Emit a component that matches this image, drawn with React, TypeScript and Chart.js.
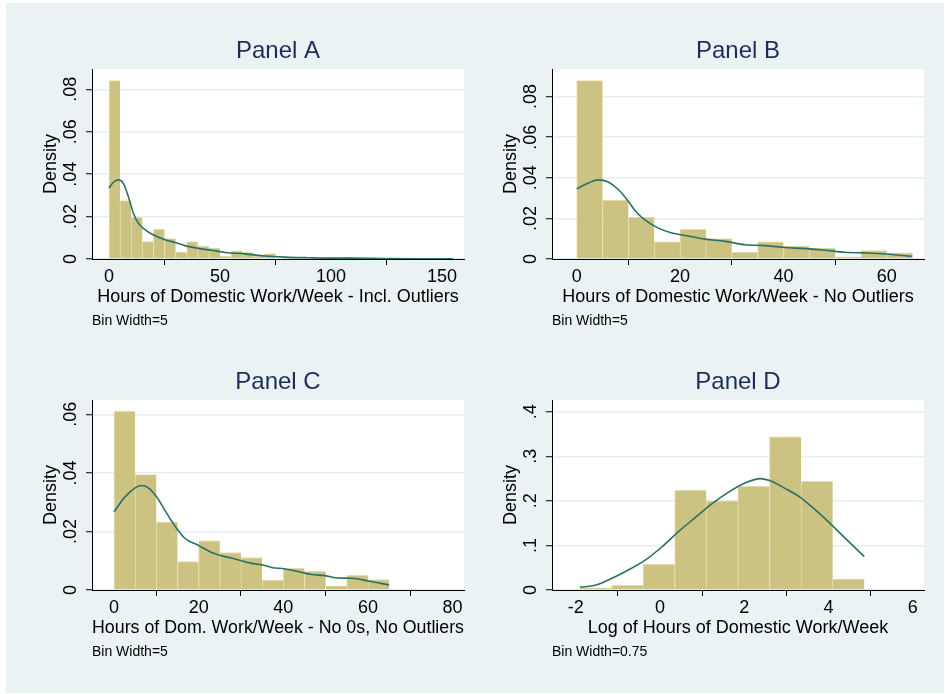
import React, { useEffect, useRef } from "react";
import { Chart, registerables } from "chart.js";

Chart.register(...registerables);

const FONT = "'Liberation Sans', Arial, Helvetica, sans-serif";

// ---------------- Panel A: incl. outliers (bin width 5) ----------------
const binCentersA = [
  2.5, 7.5, 12.5, 17.5, 22.5, 27.5, 32.5, 37.5, 42.5, 47.5, 52.5, 57.5, 62.5, 67.5, 72.5, 77.5,
  82.5, 87.5, 92.5, 97.5, 102.5, 107.5, 112.5, 117.5, 122.5, 127.5, 132.5, 137.5, 142.5, 147.5, 152.5,
];
const densityA = [
  0.0841, 0.0276, 0.0196, 0.0082, 0.014, 0.0096, 0.0033, 0.0082, 0.0061, 0.0052, 0.0013, 0.0039, 0.0031,
  0.0013, 0.0025, 0.0006, 0.0008, 0.0005, 0.0004, 0.0003, 0.0004, 0.0009, 0.0002, 0.0002, 0.0003, 0.0002,
  0.0001, 0.0001, 0.0001, 0.0001, 0.0002,
];
const kernelXA = [0, 2, 4.2, 6.4, 8.7, 11, 13.2, 16.2, 19.2, 25.2, 29.7, 34.2, 40.2, 46.2, 52.3, 61.3, 70.3, 79.3, 90, 100, 110, 125, 140, 155];
const kernelYA = [
  0.0334, 0.0362, 0.0373, 0.0358, 0.0295, 0.0216, 0.0169, 0.0138, 0.0118, 0.0091, 0.0078, 0.0063, 0.005,
  0.0041, 0.0031, 0.0024, 0.0014, 0.0009, 0.0006, 0.0004, 0.0004, 0.0002, 0.0001, 0.0001,
];

// ---------------- Panel B: no outliers ----------------
const binCentersB = [2.5, 7.5, 12.5, 17.5, 22.5, 27.5, 32.5, 37.5, 42.5, 47.5, 52.5, 57.5, 62.5];
const densityB = [0.0879, 0.0289, 0.0205, 0.0085, 0.0146, 0.01, 0.0034, 0.0085, 0.0064, 0.0054, 0.0011, 0.0041, 0.0031];
const kernelXB = [0, 2.26, 4.2, 6.1, 8.1, 10, 11.3, 13.2, 15.8, 18.4, 21, 24.8, 28.7, 32.6, 36.5, 40.3, 44.2, 48.1, 51.9, 55.8, 59.7, 64.8];
const kernelYB = [
  0.0346, 0.0374, 0.039, 0.0379, 0.0341, 0.0284, 0.0238, 0.0193, 0.0152, 0.0128, 0.0116, 0.0098, 0.0087,
  0.007, 0.0066, 0.0057, 0.0051, 0.0043, 0.0033, 0.003, 0.0025, 0.0013,
];

// ---------------- Panel C: no 0s, no outliers ----------------
const binCentersC = [2.5, 7.5, 12.5, 17.5, 22.5, 27.5, 32.5, 37.5, 42.5, 47.5, 52.5, 57.5, 62.5];
const densityC = [0.061, 0.0394, 0.0232, 0.0097, 0.0168, 0.0128, 0.0111, 0.0034, 0.0074, 0.0064, 0.0014, 0.005, 0.0036];
const kernelXC = [0, 2.6, 5, 6.5, 8.1, 10.1, 12, 14, 16.8, 19.9, 23.1, 25.4, 27.8, 32.5, 34.9, 37.2, 40.4, 43.5, 46.7, 49.8, 53, 56.1, 60.1, 65];
const kernelYC = [
  0.0267, 0.0318, 0.0349, 0.0357, 0.0349, 0.0318, 0.0273, 0.0227, 0.0176, 0.0153, 0.0128, 0.0117, 0.0109,
  0.0091, 0.0086, 0.0077, 0.0072, 0.0063, 0.0053, 0.0049, 0.0041, 0.004, 0.0031, 0.0017,
];

// ---------------- Panel D: log hours (bin width 0.75) ----------------
const binCentersD = [-1.525, -0.775, -0.025, 0.725, 1.475, 2.225, 2.975, 3.725, 4.475];
const densityD = [0.0045, 0.0105, 0.0575, 0.2235, 0.2003, 0.2324, 0.3438, 0.2436, 0.0247];
const kernelXD = [-1.9, -1.54, -1.15, -0.75, -0.35, 0.05, 0.44, 0.83, 1.23, 1.62, 2.02, 2.38, 2.65, 2.97, 3.28, 3.6, 4.0, 4.39, 4.85];
const kernelYD = [0.006, 0.0105, 0.026, 0.045, 0.067, 0.097, 0.131, 0.162, 0.193, 0.219, 0.24, 0.25, 0.244, 0.228, 0.211, 0.187, 0.153, 0.117, 0.075];

const BAR_FILL = "#CCC383";
const BAR_EDGE = "#E4DDA8";
const KERNEL = "#2B7066";
const TITLE_COLOR = "#1C2D5C";
const GRID = "#E6EEF1";

type PanelCfg = {
  key: string;
  title: string;
  xTitle: string;
  note: string;
  centers: number[];
  density: number[];
  kx: number[];
  ky: number[];
  xMin: number;
  xMax: number;
  xStep: number;
  yMax: number;
  yStep: number;
  yTickPad: number;
  pos: { left: number; top: number; w: number; h: number };
  area: { L: number; R: number; T: number; B: number };
};

const panels: PanelCfg[] = [
  {
    key: "A", title: "Panel A", xTitle: "Hours of Domestic Work/Week - Incl. Outliers", note: "Bin Width=5",
    centers: binCentersA, density: densityA, kx: kernelXA, ky: kernelYA,
    xMin: -7.66, xMax: 159.9, xStep: 50, yMax: 0.0896, yStep: 0.02, yTickPad: 2.3,
    pos: { left: 0, top: 0, w: 472, h: 347 }, area: { L: 92, R: 464, T: 69, B: 259 },
  },
  {
    key: "B", title: "Panel B", xTitle: "Hours of Domestic Work/Week - No Outliers", note: "Bin Width=5",
    centers: binCentersB, density: densityB, kx: kernelXB, ky: kernelYB,
    xMin: -4.78, xMax: 67.2, xStep: 20, yMax: 0.0936, yStep: 0.02, yTickPad: 2.3,
    pos: { left: 472, top: 0, w: 473, h: 347 }, area: { L: 80, R: 452, T: 69, B: 259 },
  },
  {
    key: "C", title: "Panel C", xTitle: "Hours of Dom. Work/Week - No 0s, No Outliers", note: "Bin Width=5",
    centers: binCentersC, density: densityC, kx: kernelXC, ky: kernelYC,
    xMin: -5.2, xMax: 82.7, xStep: 20, yMax: 0.0649, yStep: 0.02, yTickPad: 2.3,
    pos: { left: 0, top: 347, w: 472, h: 347 }, area: { L: 92, R: 464, T: 53, B: 243 },
  },
  {
    key: "D", title: "Panel D", xTitle: "Log of Hours of Domestic Work/Week", note: "Bin Width=0.75",
    centers: binCentersD, density: densityD, kx: kernelXD, ky: kernelYD,
    xMin: -2.563, xMax: 6.268, xStep: 2, yMax: 0.4263, yStep: 0.1, yTickPad: 7.3,
    pos: { left: 472, top: 347, w: 473, h: 347 }, area: { L: 80, R: 452, T: 53, B: 243 },
  },
];

const stataLabel = (v: number | string) => {
  const n = Math.round(Number(v) * 10000) / 10000;
  if (n === 0) return "0";
  return String(n).replace(/^0\./, ".").replace(/^-0\./, "-.");
};

const plotBg = {
  id: "plotBg",
  beforeDraw(chart: any) {
    const { ctx, chartArea: a } = chart;
    ctx.save();
    ctx.fillStyle = "#ffffff";
    ctx.fillRect(a.left, a.top, a.right - a.left, a.bottom - a.top);
    ctx.restore();
  },
};

const X_AXIS_H = 49.1;
const NOTE_PAD_TOP = 4.2;
const NOTE_LINE = 14 * 1.2;

function Panel({ cfg }: { cfg: PanelCfg }) {
  const ref = useRef<HTMLCanvasElement | null>(null);
  useEffect(() => {
    if (!ref.current) return;
    const { L, R, T, B } = cfg.area;
    const { w, h } = cfg.pos;
    const titlePadBottom = 3.1;
    const titlePadTop = T - titlePadBottom - 24 * 1.2;
    const padBottom = h - B - X_AXIS_H - NOTE_PAD_TOP - NOTE_LINE;
    const chart = new Chart(ref.current, {
      type: "bar",
      data: {
        datasets: [
          {
            type: "line",
            data: cfg.kx.map((x, i) => ({ x, y: cfg.ky[i] })),
            borderColor: KERNEL,
            borderWidth: 1.6,
            pointRadius: 0,
            fill: false,
            cubicInterpolationMode: "monotone",
            order: 0,
          } as any,
          {
            type: "bar",
            data: cfg.centers.map((x, i) => ({ x, y: cfg.density[i] })),
            backgroundColor: BAR_FILL,
            borderColor: BAR_EDGE,
            borderWidth: { top: 1, left: 1, right: 0, bottom: 0 },
            borderSkipped: "start",
            barPercentage: 1,
            categoryPercentage: 1,
            grouped: false,
            order: 1,
          } as any,
        ],
      },
      options: {
        responsive: false,
        animation: false,
        devicePixelRatio: 1,
        events: [],
        layout: { padding: { left: 0, top: 0, right: w - R, bottom: padBottom } },
        font: { family: FONT },
        plugins: {
          legend: { display: false },
          tooltip: { enabled: false },
          title: {
            display: true,
            text: cfg.title,
            fullSize: false,
            color: TITLE_COLOR,
            font: { family: FONT, size: 24, weight: "normal" },
            padding: { top: titlePadTop, bottom: titlePadBottom },
          },
          subtitle: {
            display: true,
            text: cfg.note,
            position: "bottom",
            align: "start",
            fullSize: false,
            color: "#000",
            font: { family: FONT, size: 14, weight: "normal" },
            padding: { top: NOTE_PAD_TOP, bottom: 0 },
          },
        },
        scales: {
          x: {
            type: "linear",
            position: "bottom",
            min: cfg.xMin,
            max: cfg.xMax,
            offset: false,
            grid: { display: true, drawOnChartArea: false, drawTicks: true, tickLength: 6, tickColor: "#000", tickWidth: 1 },
            border: { display: true, color: "#000", width: 1 },
            ticks: {
              stepSize: cfg.xStep,
              autoSkip: false,
              includeBounds: false,
              minRotation: 0,
              maxRotation: 0,
              padding: 1.5,
              color: "#000",
              font: { family: FONT, size: 18 },
              callback: (v: any) => stataLabel(v),
            },
            title: {
              display: true,
              text: cfg.xTitle,
              color: "#000",
              font: { family: FONT, size: 18 },
              padding: { top: 0, bottom: 0 },
            },
            afterFit: (s: any) => {
              s.height = X_AXIS_H;
            },
          },
          y: {
            type: "linear",
            position: "left",
            min: 0,
            max: cfg.yMax,
            grid: { display: true, color: GRID, lineWidth: 1.5, drawTicks: true, tickLength: 6, tickColor: "#000", tickWidth: 1 },
            border: { display: true, color: "#000", width: 1 },
            ticks: {
              stepSize: cfg.yStep,
              includeBounds: false,
              minRotation: 90,
              maxRotation: 90,
              crossAlign: "center",
              padding: cfg.yTickPad,
              color: "#000",
              font: { family: FONT, size: 18 },
              callback: (v: any) => stataLabel(v),
            },
            title: {
              display: true,
              text: "Density",
              color: "#000",
              font: { family: FONT, size: 18 },
              padding: { top: L - 52.1, bottom: 0 },
            },
            afterFit: (s: any) => {
              s.width = L;
            },
          },
        },
      } as any,
      plugins: [plotBg],
    });
    return () => chart.destroy();
  }, [cfg]);

  return (
    <canvas
      ref={ref}
      width={cfg.pos.w}
      height={cfg.pos.h}
      style={{ position: "absolute", left: cfg.pos.left, top: cfg.pos.top, width: cfg.pos.w, height: cfg.pos.h }}
    />
  );
}

export default function App() {
  return (
    <div style={{ position: "absolute", left: 0, top: 0, width: 945, height: 694, background: "#ffffff", overflow: "hidden" }}>
      <div style={{ position: "absolute", left: 6, top: 3, width: 938, height: 690, background: "#EAF2F3" }} />
      {panels.map((p) => (
        <Panel key={p.key} cfg={p} />
      ))}
    </div>
  );
}
